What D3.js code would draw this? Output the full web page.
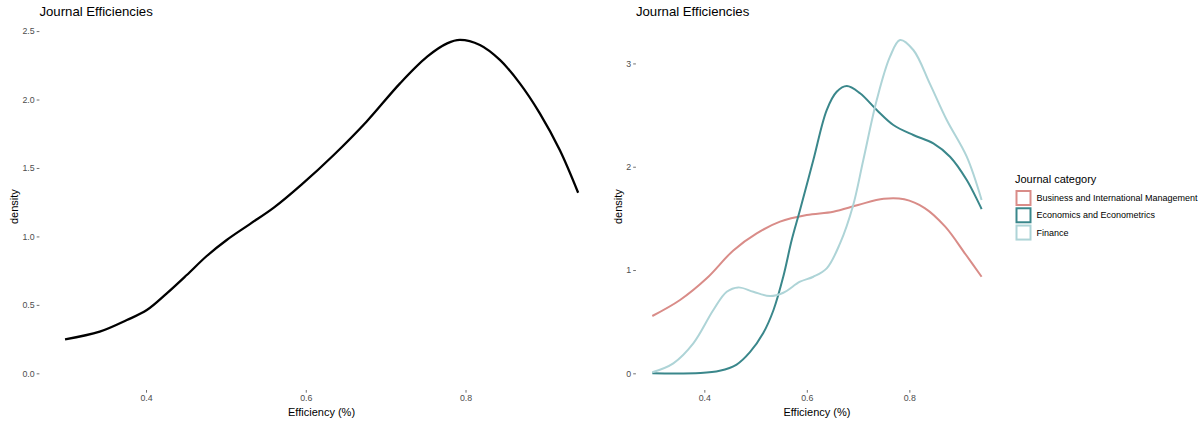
<!DOCTYPE html>
<html><head><meta charset="utf-8">
<script src="https://cdn.jsdelivr.net/npm/d3@7"></script>
<style>
body{margin:0;background:#fff;}
text{font-family:"Liberation Sans",Arial,sans-serif;}
</style></head><body>
<svg id="chart" width="1203" height="423"></svg>
<script>
// ---- data ----
const allEff = [0.2986,0.342,0.376,0.401,0.426,0.451,0.476,0.501,0.530,0.560,0.595,0.635,0.676,0.718,0.752,0.777,0.793,0.818,0.843,0.868,0.893,0.918,0.941];
const allDensity = [0.248,0.304,0.389,0.462,0.584,0.718,0.857,0.974,1.090,1.210,1.380,1.595,1.838,2.118,2.313,2.410,2.435,2.398,2.289,2.118,1.899,1.631,1.319];

const categories = ["Business and International Management","Economics and Econometrics","Finance"];
const colors = ["#D98C88","#3A878B","#AED4D7"];

const busEff = [0.2985,0.3526,0.4047,0.4566,0.5022,0.5477,0.5998,0.6517,0.700,0.750,0.790,0.830,0.870,0.910,0.941];
const busDensity = [0.555,0.71,0.92,1.19,1.355,1.468,1.532,1.565,1.630,1.690,1.685,1.600,1.420,1.150,0.935];

const ecoEff = [0.2985,0.392,0.43,0.463,0.489,0.515,0.535,0.554,0.5705,0.5867,0.6127,0.6388,0.6583,0.678,0.7038,0.7364,0.7688,0.8078,0.8468,0.8794,0.912,0.941];
const ecoDensity = [0,0.003,0.025,0.085,0.205,0.39,0.613,0.935,1.29,1.581,2.065,2.549,2.726,2.781,2.711,2.549,2.404,2.307,2.227,2.097,1.871,1.59];

const finEff = [0.2985,0.3395,0.3785,0.4176,0.4437,0.4663,0.4956,0.5282,0.5541,0.5867,0.6127,0.6388,0.6648,0.690,0.7102,0.7364,0.7623,0.7819,0.8078,0.8404,0.873,0.912,0.941];
const finDensity = [0.01,0.097,0.29,0.613,0.79,0.832,0.79,0.748,0.78,0.887,0.935,1.016,1.258,1.620,2.065,2.646,3.065,3.227,3.13,2.80,2.452,2.097,1.678];

const xTicks = [0.4,0.6,0.8];
const yTicksLeft = [0,0.5,1.0,1.5,2.0,2.5];
const yTicksRight = [0,1,2,3];
const titleText = "Journal Efficiencies";
const xTitle = "Efficiency (%)";
const yTitle = "density";
const legendTitle = "Journal category";

// ---- drawing ----
const svg = d3.select("#chart");
const tickColor = "#4D4D4D";

function panel(opts){
  const {left,right,top,bottom,xDomain,yDomain,yTicks,yFmt,series} = opts;
  const x = d3.scaleLinear().domain(xDomain).range([left,right]);
  const y = d3.scaleLinear().domain(yDomain).range([bottom,top]);
  const g = svg.append("g");
  const xa = g.append("g").attr("transform",`translate(0,${bottom})`)
    .call(d3.axisBottom(x).tickValues(xTicks).tickSize(2.7).tickPadding(2).tickFormat(d3.format(".1f")));
  const ya = g.append("g").attr("transform",`translate(${left},0)`)
    .call(d3.axisLeft(y).tickValues(yTicks).tickSize(2.7).tickPadding(2).tickFormat(yFmt));
  [xa,ya].forEach(a=>{
    a.select(".domain").remove();
    a.selectAll("line").attr("stroke","#333").attr("stroke-width",0.7);
    a.selectAll("text").attr("fill",tickColor).style("font-size","8.8px")
      .style("font-family",'"Liberation Sans",Arial,sans-serif');
  });
  const line = d3.line().x(d=>x(d[0])).y(d=>y(d[1])).curve(d3.curveCatmullRom.alpha(0.5));
  series.forEach(s=>{
    g.append("path").datum(d3.zip(s.x,s.y)).attr("d",line)
      .attr("fill","none").attr("stroke",s.color).attr("stroke-width",s.width)
      .attr("stroke-linejoin","round").attr("stroke-linecap","butt");
  });
  g.append("text").attr("x",left).attr("y",15.5).text(titleText)
    .style("font-size","13.2px").attr("fill","#000");
  g.append("text").attr("x",(left+right)/2).attr("y",416).attr("text-anchor","middle")
    .text(xTitle).style("font-size","11px").attr("fill","#000");
  g.append("text").attr("transform",`translate(${opts.yTitleX},${(top+bottom)/2}) rotate(-90)`)
    .attr("text-anchor","middle").text(yTitle).style("font-size","11px").attr("fill","#000");
}

const xDom = [0.2665,0.9730];
panel({left:39.4,right:603.7,top:23.3,bottom:390,xDomain:xDom,
  yDomain:[-0.1218,2.5568],yTicks:yTicksLeft,yFmt:d3.format(".1f"),yTitleX:18,
  series:[{x:allEff,y:allDensity,color:"#000",width:2.3}]});

panel({left:635.9,right:998,top:23.3,bottom:390,xDomain:xDom,
  yDomain:[-0.1614,3.3884],yTicks:yTicksRight,yFmt:d3.format("d"),yTitleX:622,
  series:[
    {x:busEff,y:busDensity,color:colors[0],width:2},
    {x:ecoEff,y:ecoDensity,color:colors[1],width:2},
    {x:finEff,y:finDensity,color:colors[2],width:2}
  ]});

const lg = svg.append("g");
lg.append("text").attr("x",1015).attr("y",182.5).text(legendTitle)
  .style("font-size","11px").attr("fill","#000");
categories.forEach((c,i)=>{
  const cy = 198 + i*17.28;
  lg.append("rect").attr("x",1016.5).attr("y",cy-7).attr("width",14).attr("height",14)
    .attr("fill","#fff").attr("stroke",colors[i]).attr("stroke-width",2);
  lg.append("text").attr("x",1036.5).attr("y",cy+3.2).text(c)
    .style("font-size","9px").attr("fill","#000");
});
</script>
</body></html>
